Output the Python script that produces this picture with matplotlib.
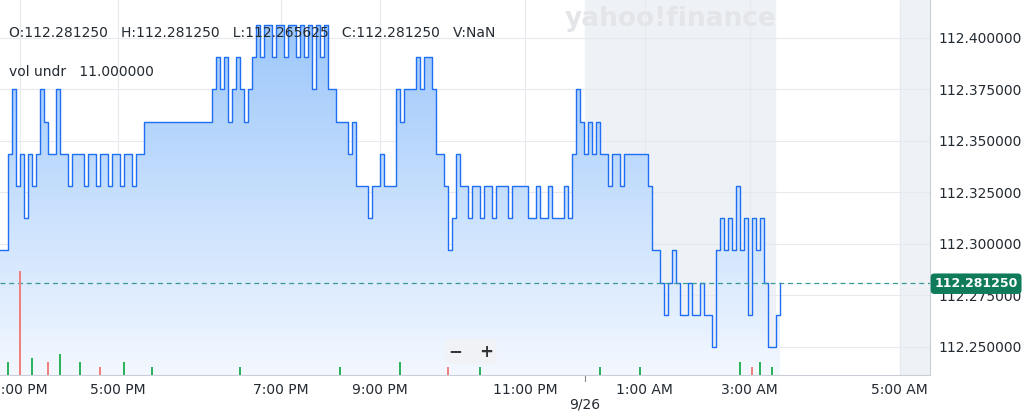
import matplotlib
matplotlib.use("Agg")
import matplotlib.pyplot as plt
import numpy as np

base = 112.25
tick = 1/64
# price level in 1/64 steps above 112.25, one sample per bar slot
levels = [3,3,6,8,5,6,4,6,5,6,8,7,6,6,8,6,6,5,6,6,6,5,6,6,5,6,6,5,6,6,5,6,6,5,6,6,
          7,7,7,7,7,7,7,7,7,7,7,7,7,7,7,7,7,
          8,9,8,9,7,8,9,8,7,8,9,10,9,10,10,9,10,10,9,10,10,9,10,9,10,8,10,9,10,8,8,7,7,7,6,7,
          5,5,5,4,5,5,6,5,5,5,8,7,8,8,8,9,8,9,9,8,6,6,5,3,4,6,5,5,4,5,5,4,5,5,4,5,5,5,4,5,5,5,5,4,4,
          5,4,4,5,4,4,4,5,4,6,8,7,6,7,6,7,6,6,5,6,6,5,6,6,6,6,6,6,5,3,3,2,1,2,3,2,1,1,2,1,1,2,1,1,0,
          3,4,3,4,3,5,3,4,1,4,3,4,2,0,0,1,2]
prices = base + np.array(levels) * tick

vol_idx = [2, 5, 8, 12, 15, 20, 25, 31, 38, 60, 85, 100, 112, 120, 150, 160, 185, 188, 190, 193]
vol_val = [3, 25, 4, 3, 5, 3, 2, 3, 2, 2, 2, 3, 2, 2, 2, 2, 3, 2, 3, 2]
vol_col = ['#2db35d', '#f08080', '#2db35d', '#f08080', '#2db35d', '#2db35d', '#f08080', '#2db35d',
           '#2db35d', '#2db35d', '#2db35d', '#2db35d', '#f08080', '#2db35d', '#2db35d', '#2db35d',
           '#2db35d', '#f08080', '#2db35d', '#2db35d']

xtick_pos = [5, 29.5, 70.25, 95, 131.25, 161.25, 187.5, 225]
xtick_lab = ['3:00 PM', '5:00 PM', '7:00 PM', '9:00 PM', '11:00 PM', '1:00 AM', '3:00 AM', '5:00 AM']
ytick_val = [112.25, 112.275, 112.30, 112.325, 112.35, 112.375, 112.40]
last_price = 112.28125

fig = plt.figure(figsize=(10.24, 4.16), dpi=100)
ax = fig.add_axes([0, 0.0986, 0.908, 0.9014])
ymin, ymax = 112.2364, 112.4184
xmax = 232.5
ax.set_xlim(0, xmax)
ax.set_ylim(ymin, ymax)

ax.axvspan(146.25, 193.75, color='#eef2f7', zorder=0)
ax.axvspan(225, xmax, color='#eef2f7', zorder=0)
for xp in xtick_pos:
    ax.axvline(xp, color='#e6e9ee', lw=0.8, zorder=0.5)
for yv in ytick_val:
    ax.axhline(yv, color='#e6e9ee', lw=0.8, zorder=0.5)

x = np.arange(len(prices))
xs = np.repeat(x, 2)[1:]
ys = np.repeat(prices, 2)[:-1]
grad = np.linspace(0, 1, 256).reshape(-1, 1)
cmap = matplotlib.colors.LinearSegmentedColormap.from_list('g', ['#f3f8ff', '#9cc7fb'])
im = ax.imshow(grad, extent=[0, x[-1], ymin, prices.max()], origin='lower', aspect='auto',
               cmap=cmap, zorder=1)
poly = ax.fill_between(xs, ys, ymin, color='none')
im.set_clip_path(poly.get_paths()[0], transform=ax.transData)
ax.plot(xs, ys, color='#1e6ff5', lw=1.0, zorder=2)

ax.axhline(last_price, color='#3a9a94', lw=0.9, ls=(0, (4, 3)), zorder=3)

vax = ax.twinx()
vax.set_ylim(0, 90)
vax.bar(vol_idx, vol_val, width=0.5, color=vol_col, zorder=1)
vax.set_yticks([])
vax.set_xlim(0, xmax)

ax.set_xticks(xtick_pos)
ax.set_xticklabels(xtick_lab, fontsize=10, color='#232a31')
ax.tick_params(axis='x', length=0, pad=6)
ax.yaxis.tick_right()
ax.set_yticks(ytick_val)
ax.set_yticklabels([f'{v:.6f}' for v in ytick_val], fontsize=10, color='#232a31')
ax.tick_params(axis='y', length=0, pad=6)
for s in ['top', 'left']:
    ax.spines[s].set_visible(False)
    vax.spines[s].set_visible(False)
ax.spines['right'].set_color('#c9ced6')
ax.spines['bottom'].set_color('#c9ced6')
vax.spines['right'].set_visible(False)
vax.spines['bottom'].set_visible(False)

ax.text(146.25, ymin - 0.0165, '9/26', ha='center', fontsize=10, color='#232a31', clip_on=False)
ax.plot([146.25, 146.25], [ymin, ymin - 0.003], color='#888', lw=0.8, clip_on=False)

fig.text(0.009, 0.92, 'O:112.281250   H:112.281250   L:112.265625   C:112.281250   V:NaN',
         fontsize=10, color='#232a31', va='center')
fig.text(0.009, 0.827, 'vol undr   11.000000', fontsize=10, color='#232a31', va='center')
fig.text(0.655, 0.955, 'yahoo!finance', fontsize=19, fontweight='bold', color='#e3e5e9',
         ha='center', va='center')

fig.text(0.9125, 0.318, f'{last_price:.6f}', fontsize=9, color='white', ha='left',
         va='center', fontweight='bold',
         bbox=dict(boxstyle='round,pad=0.3', fc='#0f7b5a', ec='none'))
fig.text(0.438, 0.155, '−   +', fontsize=12, color='#333', fontweight='bold', va='center',
         bbox=dict(boxstyle='round,pad=0.2', fc='#f0f2f5', ec='none'))
fig.savefig('out.png', dpi=100)
